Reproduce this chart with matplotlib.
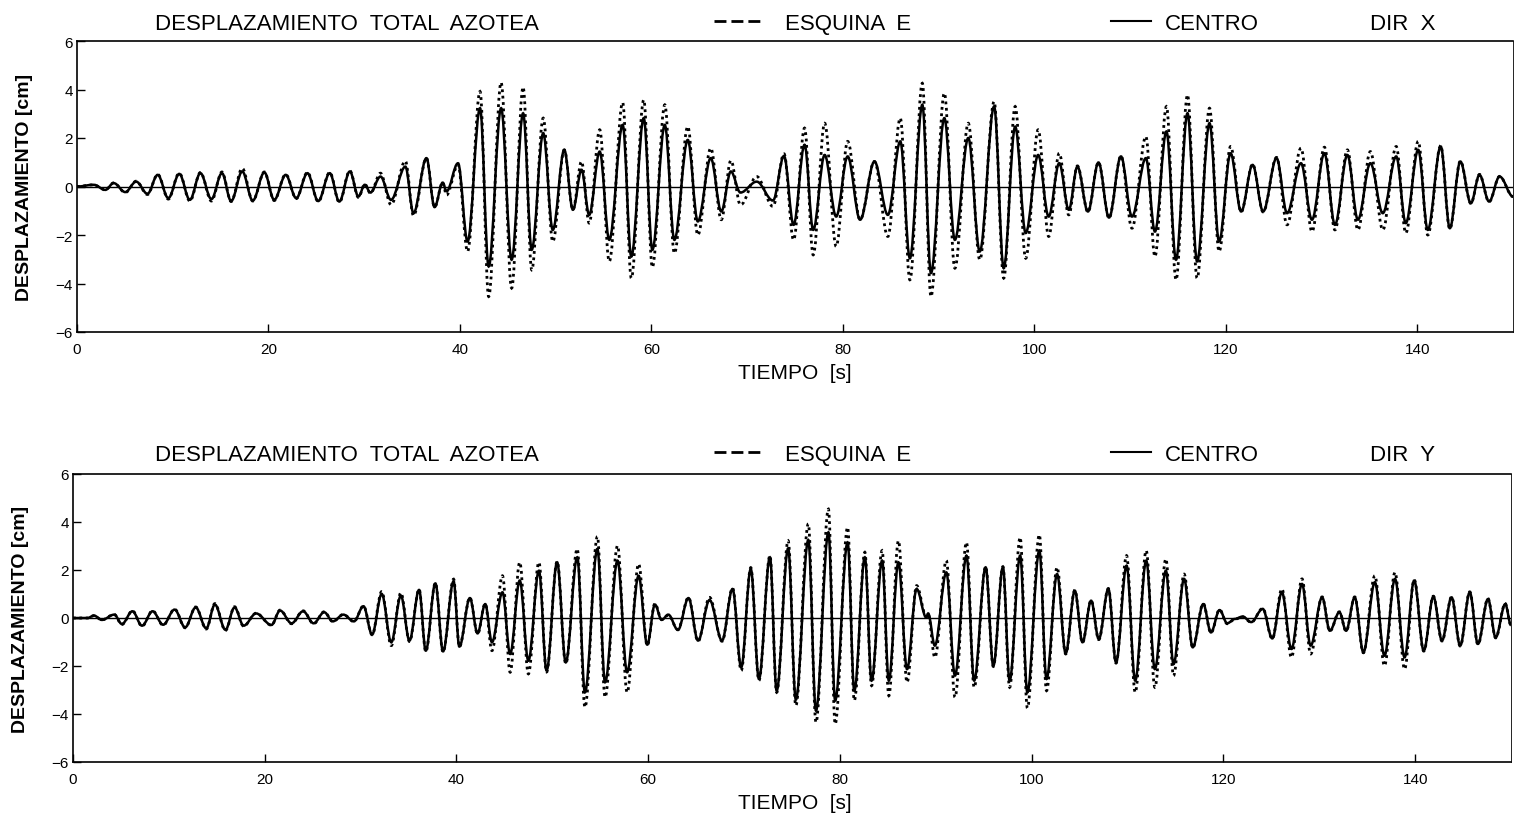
import matplotlib
matplotlib.use('Agg')
from matplotlib import pyplot
from matplotlib.lines import Line2D
from matplotlib.path import Path
from matplotlib.patches import PathPatch

# DIR X: time of each peak / trough [s] and displacement [cm]
t_x = [0.0, 1.75, 2.96, 3.83, 5.04, 6.18, 7.36, 8.43, 9.54, 10.68, 11.79, 12.89, 14.04, 15.14, 16.1,
       17.26, 18.36, 19.57, 20.6, 21.8, 22.9, 24.07, 25.2, 26.4, 27.4, 28.5, 29.4, 30.06, 30.65, 31.7,
       32.8, 34.3, 35.15, 36.5, 37.35, 38.2, 38.6, 39.8, 40.8, 42.1, 43.0, 44.3, 45.4, 46.6, 47.5,
       48.7, 49.7, 50.9, 51.8, 52.7, 53.5, 54.6, 55.6, 57.0, 57.9, 59.2, 60.1, 61.4, 62.4, 63.8,
       64.85, 66.2, 67.3, 68.3, 69.3, 71.0, 72.7, 73.85, 74.85, 76.0, 76.9, 78.1, 79.3, 80.5, 81.8,
       83.3, 84.7, 86.0, 87.0, 88.3, 89.2, 90.6, 91.7, 93.1, 94.3, 95.8, 96.8, 98.0, 99.1, 100.4,
       101.5, 102.6, 103.6, 104.5, 105.6, 106.7, 107.8, 109.05, 110.2, 111.65, 112.6, 113.8, 114.8,
       116.0, 117.0, 118.3, 119.3, 120.5, 121.6, 122.8, 123.9, 125.3, 126.4, 127.85, 129.0, 130.3,
       131.4, 132.7, 133.8, 135.1, 136.4, 137.8, 138.8, 140.1, 141.1, 142.45, 143.4, 144.5, 145.6,
       146.5, 147.5, 148.6, 150.0]
centro_x = [0.0, 0.07, -0.14, 0.14, -0.23, 0.2, -0.3, 0.48, -0.48, 0.52, -0.55, 0.55, -0.52, 0.55, -0.6,
            0.62, -0.58, 0.58, -0.55, 0.48, -0.48, 0.55, -0.6, 0.55, -0.62, 0.62, -0.41, 0.07, -0.25, 0.41,
            -0.55, 0.82, -1.1, 1.17, -0.85, 0.16, -0.2, 0.96, -2.27, 3.23, -3.3, 3.23, -3.02, 3.02, -2.61,
            2.2, -1.79, 1.51, -0.96, 0.69, -1.17, 1.44, -2.2, 2.54, -2.89, 2.82, -2.61, 2.54, -2.2, 1.92,
            -1.44, 1.17, -1.03, 0.62, -0.25, 0.2, -0.58, 1.26, -1.58, 1.72, -1.79, 1.3, -1.24, 1.24, -1.37,
            1.03, -1.17, 1.86, -2.96, 3.37, -3.57, 2.82, -2.2, 2.0, -2.68, 3.3, -3.37, 2.47, -1.92, 1.3,
            -1.24, 0.96, -0.96, 0.82, -1.03, 0.99, -1.28, 1.24, -1.24, 1.17, -1.86, 2.27, -3.02,
            3.02, -3.09, 2.61, -2.27, 1.37, -1.03, 0.89, -1.03, 1.17, -1.1, 0.96, -1.37, 1.37,
            -1.58, 1.3, -1.37, 0.96, -1.1, 1.24, -1.51, 1.51, -1.79, 1.65, -1.72, 1.03, -0.69,
            0.48, -0.62, 0.41, -0.41]
esquina_x = [0.0, 0.07, -0.14, 0.15, -0.25, 0.22, -0.33, 0.5, -0.52, 0.55, -0.6, 0.58, -0.6, 0.6, -0.62,
             0.75, -0.6, 0.6, -0.58, 0.5, -0.5, 0.58, -0.62, 0.58, -0.65, 0.65, -0.45, 0.1, -0.28, 0.55,
             -0.75, 1.05, -1.2, 1.17, -0.85, 0.16, -0.35, 0.9, -2.68, 3.92, -4.54, 4.29, -4.19, 4.1, -3.44,
             2.82, -2.27, 1.51, -0.96, 1.03, -1.51, 2.34, -3.09, 3.46, -3.78, 3.57, -3.33, 3.37, -2.75, 2.47,
             -2.0, 1.58, -1.37, 1.07, -0.76, 0.41, -0.82, 1.35, -2.2, 2.41, -2.82, 2.61, -2.47, 1.86, -1.37,
             1.03, -2.06, 2.82, -3.85, 4.26, -4.54, 3.85, -3.37, 2.61, -3.02, 3.5, -3.78, 3.3, -2.96, 2.34,
             -2.06, 1.37, -1.17, 0.85, -1.05, 1.0, -1.3, 1.26, -1.72, 2.06, -2.89, 3.3, -3.85,
             3.78, -3.78, 3.23, -2.68, 1.65, -1.05, 0.92, -1.05, 1.2, -1.58, 1.58, -1.86, 1.62,
             -1.79, 1.51, -1.79, 1.44, -1.79, 1.65, -1.92, 1.86, -2.0, 1.68, -1.75, 1.05, -0.7,
             0.5, -0.63, 0.42, -0.42]

# DIR Y
t_y = [0.0, 1.5, 2.2, 3.0, 4.3, 5.1, 6.2, 7.2, 8.3, 9.4, 10.6, 11.7, 12.8, 13.9, 14.8, 15.9, 16.85,
       17.8, 19.1, 20.7, 21.6, 22.8, 24.0, 25.1, 26.2, 27.1, 28.2, 29.3, 30.3, 31.2, 32.2, 33.2, 34.2,
       35.1, 36.1, 36.8, 37.8, 38.6, 39.7, 40.3, 41.4, 42.2, 43.0, 43.7, 44.8, 45.6, 46.6, 47.5, 48.6,
       49.4, 50.5, 51.4, 52.6, 53.4, 54.7, 55.5, 56.8, 57.8, 59.0, 59.9, 60.7, 61.4, 62.1, 63.1, 64.2,
       65.2, 66.4, 67.7, 68.8, 69.7, 70.7, 71.55, 72.7, 73.4, 74.6, 75.4, 76.7, 77.5, 78.8, 79.5, 80.8,
       81.5, 82.6, 83.3, 84.4, 85.1, 86.1, 87.0, 88.0, 89.0, 89.2, 89.9, 91.1, 92.0, 93.2, 94.0, 95.2,
       96.0, 97.0, 97.7, 98.8, 99.55, 100.8, 101.55, 102.65, 103.55, 104.5, 105.3, 106.2, 107.0,
       108.0, 108.8, 109.9, 110.8, 111.95, 112.85, 114.0, 114.8, 115.9, 116.8, 117.9, 118.7, 119.6,
       120.4, 121.2, 122.0, 122.9, 124.1, 125.1, 126.1, 127.1, 128.2, 129.1, 130.3, 131.1, 132.1,
       132.8, 133.7, 134.6, 135.8, 136.8, 137.9, 138.9, 139.9, 140.9, 141.9, 142.8, 143.8, 144.7,
       145.7, 146.55, 147.6, 148.4, 149.4, 150.0]
centro_y = [0.0, 0.0, 0.1, -0.08, 0.14, -0.25, 0.28, -0.32, 0.28, -0.28, 0.35, -0.39, 0.44, -0.43, 0.56,
            -0.49, 0.44, -0.32, 0.19, -0.29, 0.31, -0.22, 0.28, -0.22, 0.24, -0.14, 0.14, -0.14, 0.49,
            -0.69, 1.0, -1.01, 0.93, -0.94, 1.17, -1.36, 1.44, -1.39, 1.53, -1.19, 0.83, -0.64, 0.58,
            -1.01, 1.07, -1.5, 1.56, -1.78, 1.97, -2.19, 2.32, -1.85, 2.53, -3.1, 2.88, -2.68, 2.39,
            -2.26, 1.76, -1.11, 0.56, -0.08, 0.14, -0.5, 0.83, -0.94, 0.75, -0.94, 1.21, -2.06, 2.04,
            -2.54, 2.53, -3.03, 2.9, -3.4, 3.25, -3.86, 3.57, -3.44, 3.15, -3.03, 2.53, -2.61, 2.39,
            -2.61, 2.32, -2.13, 1.21, 0.03, 0.19, -1.15, 1.9, -2.4, 2.6, -2.61, 2.11, -1.99, 2.11,
            -2.61, 2.6, -3.1, 2.81, -2.54, 1.83, -1.47, 1.14, -1.01, 0.72, -0.88, 1.21, -1.85, 2.18,
            -2.61, 2.39, -2.13, 1.97, -1.92, 1.63, -1.22, 0.58, -0.6, 0.33, -0.22, -0.04, 0.06, -0.17,
            0.38, -0.85, 1.07, -1.29, 1.42, -1.15, 0.86, -0.53, 0.24, -0.53, 0.86, -1.43, 1.49, -1.57,
            1.63, -1.64, 1.56, -1.36, 0.89, -0.94, 0.86, -1.15, 1.07, -1.08, 0.79, -0.81, 0.58, -0.3]
esquina_y = [0.0, 0.0, 0.1, -0.08, 0.15, -0.27, 0.3, -0.34, 0.3, -0.3, 0.37, -0.41, 0.46, -0.46, 0.6,
             -0.52, 0.47, -0.34, 0.2, -0.3, 0.33, -0.24, 0.3, -0.24, 0.26, -0.15, 0.15, -0.15, 0.5,
             -0.7, 1.1, -1.15, 1.05, -0.98, 1.2, -1.4, 1.46, -1.42, 1.62, -1.2, 0.85, -0.66, 0.6,
             -1.36, 1.76, -2.26, 2.32, -2.33, 2.32, -2.25, 2.36, -1.9, 2.88, -3.72, 3.39, -3.3, 3.01,
             -3.1, 2.25, -1.15, 0.6, -0.05, 0.12, -0.48, 0.86, -0.97, 0.86, -0.97, 1.25, -2.19, 2.1,
             -2.6, 2.6, -3.1, 3.22, -3.65, 3.92, -4.35, 4.54, -4.42, 3.78, -3.44, 2.74, -2.82, 2.81,
             -3.24, 3.22, -2.68, 1.35, 0.05, 0.15, -1.64, 2.39, -3.3, 3.15, -2.89, 2.14, -2.02, 2.14,
             -2.89, 3.36, -3.75, 3.47, -3.03, 2.11, -1.5, 1.16, -1.03, 0.74, -0.9, 1.23, -1.88, 2.6,
             -3.1, 2.81, -2.89, 2.46, -2.4, 1.83, -1.24, 0.6, -0.62, 0.35, -0.24, -0.05, 0.05, -0.18,
             0.4, -0.87, 1.21, -1.64, 1.63, -1.5, 0.88, -0.55, 0.26, -0.55, 0.88, -1.45, 1.76, -1.99,
             1.9, -2.13, 1.6, -1.38, 0.91, -0.96, 0.88, -1.17, 1.09, -1.1, 0.81, -0.83, 0.6, -0.3]

panels = [
    (t_x, centro_x, esquina_x, 'DIR  X'),
    (t_y, centro_y, esquina_y, 'DIR  Y'),
]


def peak_path(t, v):
    # cubic bezier through every peak/trough, flat tangent at each one
    verts = [(t[0], v[0])]
    codes = [Path.MOVETO]
    for i in range(1, len(t)):
        dt = t[i] - t[i - 1]
        verts += [(t[i - 1] + 0.36 * dt, v[i - 1]), (t[i] - 0.36 * dt, v[i]), (t[i], v[i])]
        codes += [Path.CURVE4] * 3
    return Path(verts, codes)


W, H = 1515, 820
pyplot.rcParams['font.family'] = ['Liberation Sans', 'DejaVu Sans']

fig = pyplot.figure(figsize=(W / 100, H / 100), dpi=100)

# axes boxes in pixels: left, top, right, bottom
boxes = [(77, 42, 1513, 333), (73, 475, 1511, 763)]
# header baseline (px from top) for each panel
header_y = [30, 461]

for (t, centro, esquina, direction), (l, tp, r, b), hy in zip(panels, boxes, header_y):
    ax = fig.add_axes([l / W, 1 - b / H, (r - l) / W, (b - tp) / H])
    ax.add_patch(PathPatch(peak_path(t, esquina), fill=False, edgecolor='black',
                           linestyle=(0, (1, 1.3)), linewidth=2.0))
    ax.add_patch(PathPatch(peak_path(t, centro), fill=False, edgecolor='black',
                           linestyle='-', linewidth=1.8))
    ax.axhline(0, color='black', linewidth=1.0)
    ax.set_xlim(0, 150)
    ax.set_ylim(-6, 6)
    ax.set_xticks(range(0, 150, 20))
    ax.set_yticks(range(-6, 7, 2))
    ax.tick_params(axis='both', direction='in', length=6, width=1, labelsize=11, colors='black')
    ax.tick_params(axis='x', pad=7)
    ax.tick_params(axis='y', pad=3)
    for s in ax.spines.values():
        s.set_linewidth(1.2)
    ax.spines['right'].set_linewidth(0.6)
    ax.set_ylabel('DESPLAZAMIENTO [cm]', fontsize=14, fontweight='bold', labelpad=16)

    # x label
    fig.text(795 / W, 1 - (b + 46) / H, 'TIEMPO  [s]', fontsize=15, ha='center', va='baseline')

    # header line with title and legend keys
    yb = 1 - hy / H
    ym = 1 - (hy - 8) / H
    fig.text(155 / W, yb, 'DESPLAZAMIENTO  TOTAL  AZOTEA', fontsize=16, ha='left', va='baseline')
    fig.add_artist(Line2D([714 / W, 760 / W], [ym, ym], color='black', linewidth=2,
                          linestyle=(0, (4.3, 1.8)), transform=fig.transFigure))
    fig.text(785 / W, yb, 'ESQUINA  E', fontsize=16, ha='left', va='baseline')
    fig.add_artist(Line2D([1111 / W, 1151 / W], [ym, ym], color='black', linewidth=1.5,
                          transform=fig.transFigure))
    fig.text(1165 / W, yb, 'CENTRO', fontsize=16, ha='left', va='baseline')
    fig.text(1370 / W, yb, direction, fontsize=16, ha='left', va='baseline')

fig.savefig('out.png', dpi=100)
